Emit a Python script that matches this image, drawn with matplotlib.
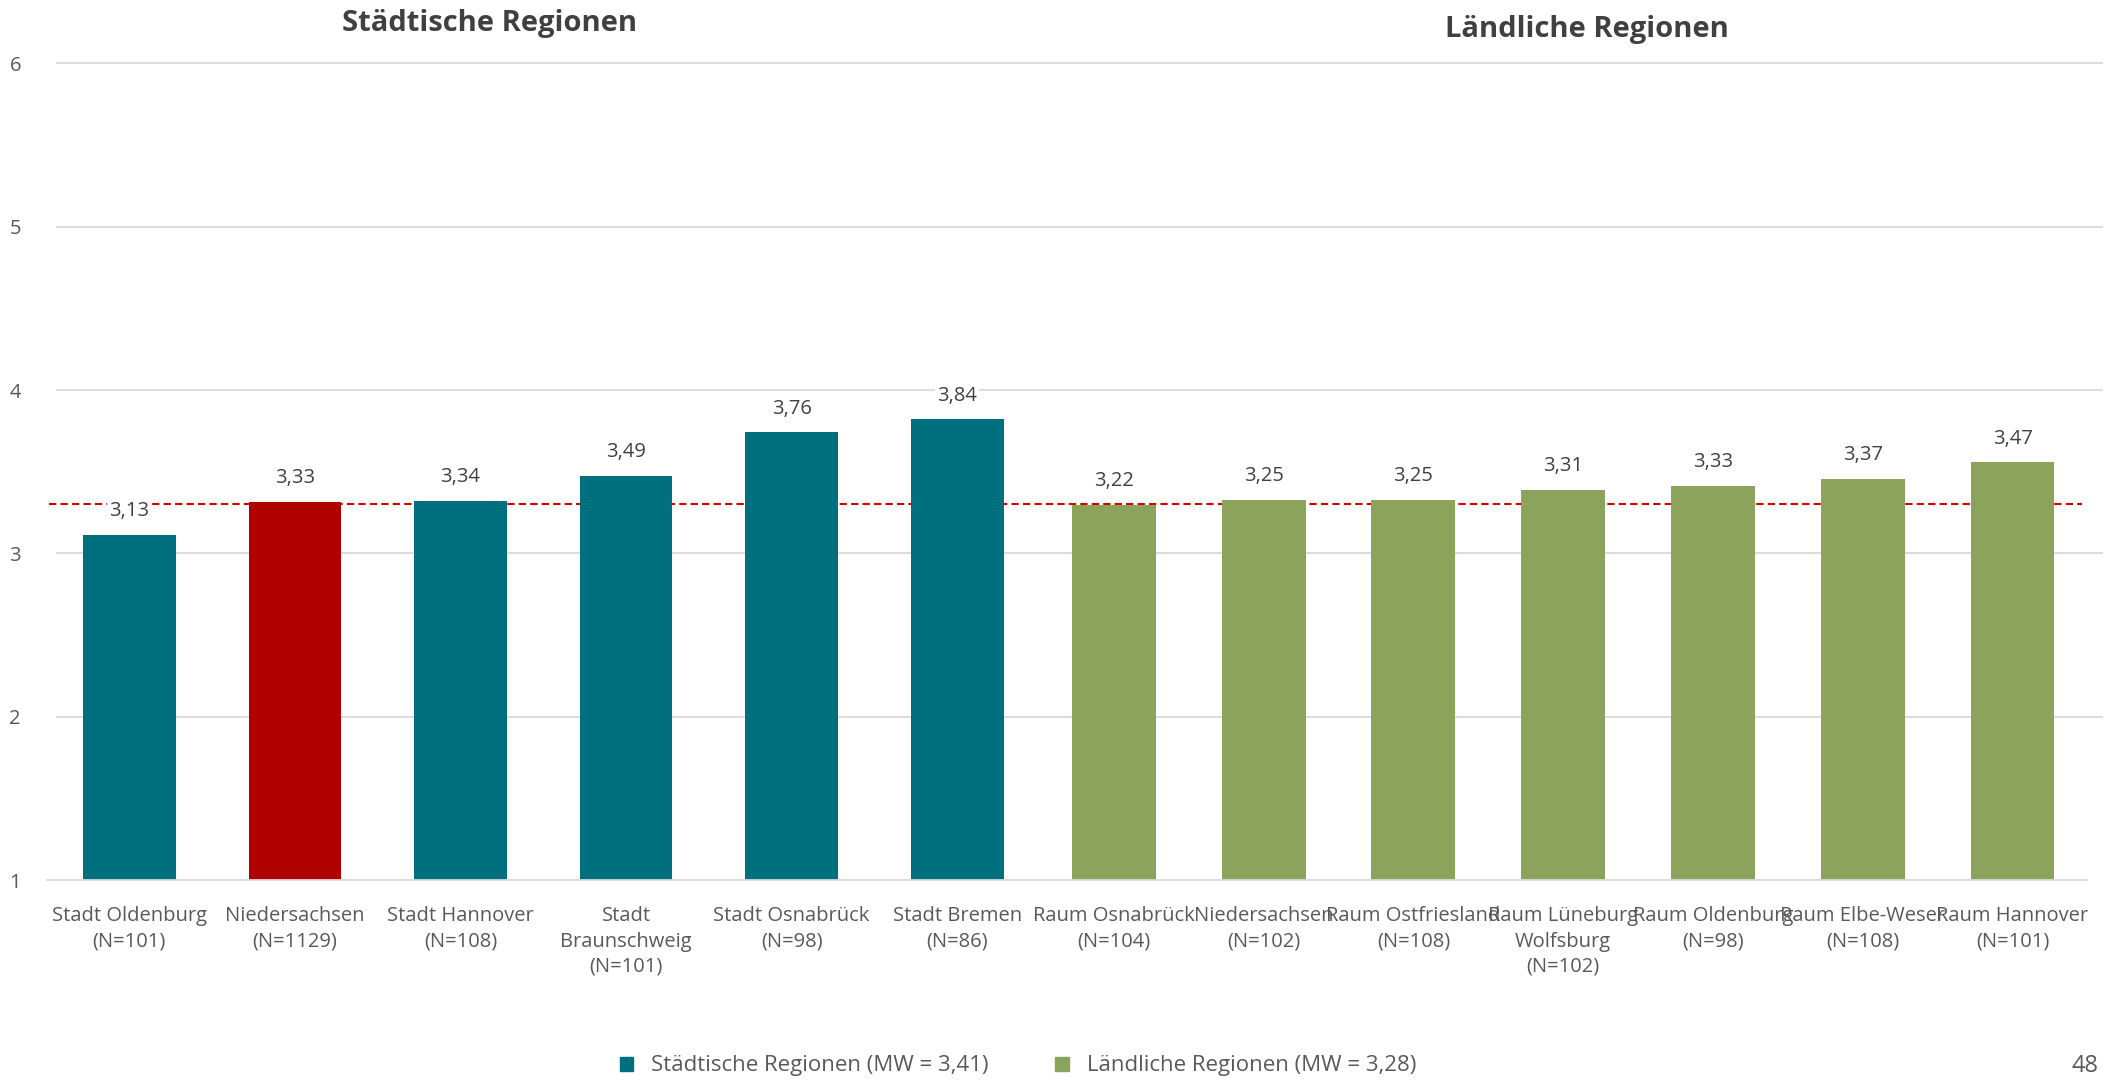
import matplotlib.pyplot as plt
from matplotlib.patches import Patch

# Städtische Regionen
city_labels = ["Stadt Oldenburg\n(N=101)", "Niedersachsen\n(N=1129)", "Stadt Hannover\n(N=108)",
               "Stadt\nBraunschweig\n(N=101)", "Stadt Osnabrück\n(N=98)", "Stadt Bremen\n(N=86)"]
city_values = [3.13, 3.33, 3.34, 3.49, 3.76, 3.84]
city_colors = ["#00707F", "#B00000", "#00707F", "#00707F", "#00707F", "#00707F"]

# Ländliche Regionen
rural_labels = ["Raum Osnabrück\n(N=104)", "Niedersachsen\n(N=102)", "Raum Ostfriesland\n(N=108)",
                "Raum Lüneburg\nWolfsburg\n(N=102)", "Raum Oldenburg\n(N=98)", "Raum Elbe-Weser\n(N=108)",
                "Raum Hannover\n(N=101)"]
rural_values = [3.22, 3.25, 3.25, 3.31, 3.33, 3.37, 3.47]

y_ticks = [1, 2, 3, 4, 5, 6]
ref_line = 3.30
legend_labels = ["Städtische Regionen (MW = 3,41)", "Ländliche Regionen (MW = 3,28)"]

teal = "#00707F"
green = "#8BA35B"
grey_txt = "#595959"
grid_col = "#D9D9D9"

plt.rcParams['font.family'] = ['Open Sans', 'DejaVu Sans']

fig = plt.figure(figsize=(21.14, 10.82), dpi=100)
W, H = 2114, 1082
y0 = (H - 880) / H
hh = (880 - 63.5) / H

# background axis: grid, y ticks and reference line
bg = fig.add_axes([57 / W, y0, (2102 - 57) / W, hh])
bg.set_ylim(1, 6)
bg.set_xlim(0, 1)
bg.set_yticks(y_ticks)
bg.set_xticks([])
for t in y_ticks[1:]:
    bg.axhline(t, color=grid_col, linewidth=1.3, clip_on=False, zorder=0)
for s in bg.spines.values():
    s.set_visible(False)
bg.tick_params(axis='y', length=0, pad=26, labelsize=14.5, labelcolor=grey_txt)
bg.axhline(ref_line, xmin=-0.004, xmax=0.99, color="#D00000", linestyle=(0, (3.5, 2)),
           linewidth=1.5, clip_on=False)

ax1 = fig.add_axes([46.5 / W, y0, (1040 - 46.5) / W, hh])
ax2 = fig.add_axes([1039 / W, y0, (2087.4 - 1039) / W, hh])

for ax, labels, values, colors, top in [
        (ax1, city_labels, city_values, city_colors, 6.035),
        (ax2, rural_labels, rural_values, [green] * len(rural_values), 5.83)]:
    xs = range(len(values))
    ax.bar(xs, [v - 1 for v in values], bottom=1, width=0.56, color=colors)
    ax.set_xlim(-0.5, len(values) - 0.5)
    ax.set_ylim(1, top)
    ax.patch.set_visible(False)
    for s in ["top", "right", "left"]:
        ax.spines[s].set_visible(False)
    ax.spines["bottom"].set_color(grid_col)
    ax.spines["bottom"].set_linewidth(1.3)
    ax.set_yticks([])
    ax.set_xticks(list(xs))
    ax.set_xticklabels(labels, fontsize=14.5, color=grey_txt, linespacing=1.35)
    ax.tick_params(axis='x', length=0, pad=19)
    for x, v in zip(xs, values):
        ax.annotate(f"{v:.2f}".replace(".", ","), (x, v), xytext=(0, 10),
                    textcoords="offset points", ha="center", va="bottom",
                    fontsize=14.5, color="#404040",
                    bbox=dict(facecolor="white", edgecolor="none", pad=1.5))

fig.text(490 / W, 1 - 24 / H, "Städtische Regionen", ha="center", va="center",
         fontsize=21, fontweight="bold", color="#404040")
fig.text(1587 / W, 1 - 29 / H, "Ländliche Regionen", ha="center", va="center",
         fontsize=21, fontweight="bold", color="#404040")

handles = [Patch(color=teal), Patch(color=green)]
fig.legend(handles, legend_labels, loc="center", bbox_to_anchor=(1018 / W, 16 / H),
           ncol=2, frameon=False, fontsize=16, handlelength=0.6, handleheight=0.6,
           columnspacing=3.0, handletextpad=0.8, labelcolor=grey_txt)
fig.text(2099 / W, 16 / H, "48", ha="right", va="center", fontsize=17, color=grey_txt)

fig.savefig("out.png", dpi=100)
